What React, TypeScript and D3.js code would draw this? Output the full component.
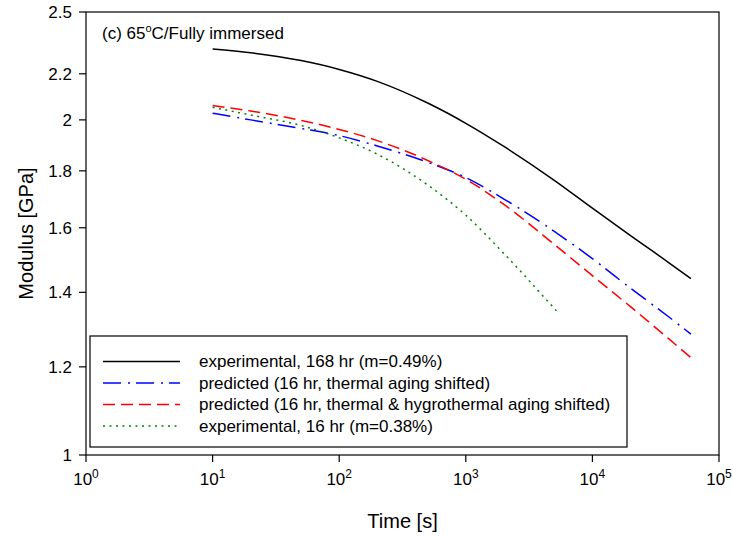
import React from "react";
import * as d3 from "d3";

// ---- Data ----
const times = [10, 20, 50, 100, 200, 500, 1000, 2000, 5000, 10000, 20000, 40000, 60000];
const exp168 = [2.316, 2.298, 2.261, 2.22, 2.166, 2.071, 1.986, 1.893, 1.765, 1.666, 1.574, 1.489, 1.44];
const predThermal = [2.028, 2.0, 1.965, 1.936, 1.895, 1.832, 1.775, 1.698, 1.588, 1.501, 1.412, 1.331, 1.284];
const predHygro = [2.06, 2.037, 1.998, 1.961, 1.916, 1.839, 1.769, 1.679, 1.546, 1.449, 1.359, 1.272, 1.223];
const times16 = [10, 20, 50, 100, 200, 500, 1000, 2000, 5000, 5500];
const exp16 = [2.053, 2.02, 1.977, 1.927, 1.863, 1.748, 1.642, 1.517, 1.354, 1.338];

const xTickExps = [0, 1, 2, 3, 4, 5];
const yTicks = [1, 1.2, 1.4, 1.6, 1.8, 2, 2.2, 2.5];
const yTickLabels = ["1", "1.2", "1.4", "1.6", "1.8", "2", "2.2", "2.5"];

const legendLabels = [
  "experimental, 168 hr (m=0.49%)",
  "predicted (16 hr, thermal aging shifted)",
  "predicted (16 hr, thermal & hygrothermal aging shifted)",
  "experimental, 16 hr (m=0.38%)",
];

const FONT = "'Liberation Sans', Arial, Helvetica, sans-serif";

export default function App() {
  const W = 733;
  const H = 537;
  const left = 86, right = 719, top = 12, bottom = 455;

  const x = d3.scaleLog().domain([1, 1e5]).range([left, right]);
  const y = d3.scaleLog().domain([1, 2.5]).range([bottom, top]);

  const line = d3
    .line<[number, number]>()
    .x((d) => x(d[0]))
    .y((d) => y(d[1]))
    .curve(d3.curveMonotoneX);

  const series = [
    { t: times, v: exp168, color: "#000000", dash: "none" },
    { t: times, v: predThermal, color: "#0000ff", dash: "18,7,2,6" },
    { t: times, v: predHygro, color: "#ff0000", dash: "12,6" },
    { t: times16, v: exp16, color: "#008000", dash: "2,4.5" },
  ];

  const legX = 90, legY = 336, legW = 537, legH = 111;
  const rowY0 = 361.5, rowStep = 21.5;

  return (
    <svg
      width={W}
      height={H}
      style={{ position: "absolute", left: 0, top: 0, background: "#fff" }}
      fontFamily={FONT}
    >
      <rect x={0} y={0} width={W} height={H} fill="#fff" />
      {/* frame */}
      <rect x={left} y={top} width={right - left} height={bottom - top} fill="none" stroke="#000" strokeWidth={1.2} />

      {/* y ticks */}
      {yTicks.map((v, i) => (
        <g key={"y" + i}>
          <line x1={left - 7} x2={left} y1={y(v)} y2={y(v)} stroke="#000" strokeWidth={1.2} />
          <text x={left - 14} y={y(v)} dy="0.35em" textAnchor="end" fontSize={17}>
            {yTickLabels[i]}
          </text>
        </g>
      ))}

      {/* x ticks */}
      {xTickExps.map((e) => (
        <g key={"x" + e}>
          <line x1={x(Math.pow(10, e))} x2={x(Math.pow(10, e))} y1={bottom} y2={bottom + 7} stroke="#000" strokeWidth={1.2} />
          <text x={x(Math.pow(10, e))} y={485} textAnchor="middle" fontSize={17}>
            <tspan>10</tspan>
            <tspan dy={-7} fontSize={12}>{e}</tspan>
          </text>
        </g>
      ))}

      {/* axis titles */}
      <text x={(left + right) / 2} y={528} textAnchor="middle" fontSize={20}>
        Time [s]
      </text>
      <text
        transform={`translate(33,${(top + bottom) / 2}) rotate(-90)`}
        textAnchor="middle"
        fontSize={20}
      >
        Modulus [GPa]
      </text>

      {/* annotation */}
      <text x={102} y={39} fontSize={17}>
        <tspan>(c) 65</tspan>
        <tspan dy={-7} fontSize={11}>o</tspan>
        <tspan dy={7}>C/Fully immersed</tspan>
      </text>

      {/* curves */}
      {series.map((s, i) => (
        <path
          key={"s" + i}
          d={line(s.t.map((t, j) => [t, s.v[j]] as [number, number])) || ""}
          fill="none"
          stroke={s.color}
          strokeWidth={1.5}
          strokeDasharray={s.dash}
        />
      ))}

      {/* legend */}
      <rect x={legX} y={legY} width={legW} height={legH} fill="#fff" stroke="#000" strokeWidth={1.2} />
      {series.map((s, i) => (
        <g key={"l" + i}>
          <line
            x1={103}
            x2={180}
            y1={rowY0 + i * rowStep}
            y2={rowY0 + i * rowStep}
            stroke={s.color}
            strokeWidth={1.5}
            strokeDasharray={s.dash}
          />
          <text x={199} y={rowY0 + i * rowStep} dy="0.35em" fontSize={17}>
            {legendLabels[i]}
          </text>
        </g>
      ))}
    </svg>
  );
}
